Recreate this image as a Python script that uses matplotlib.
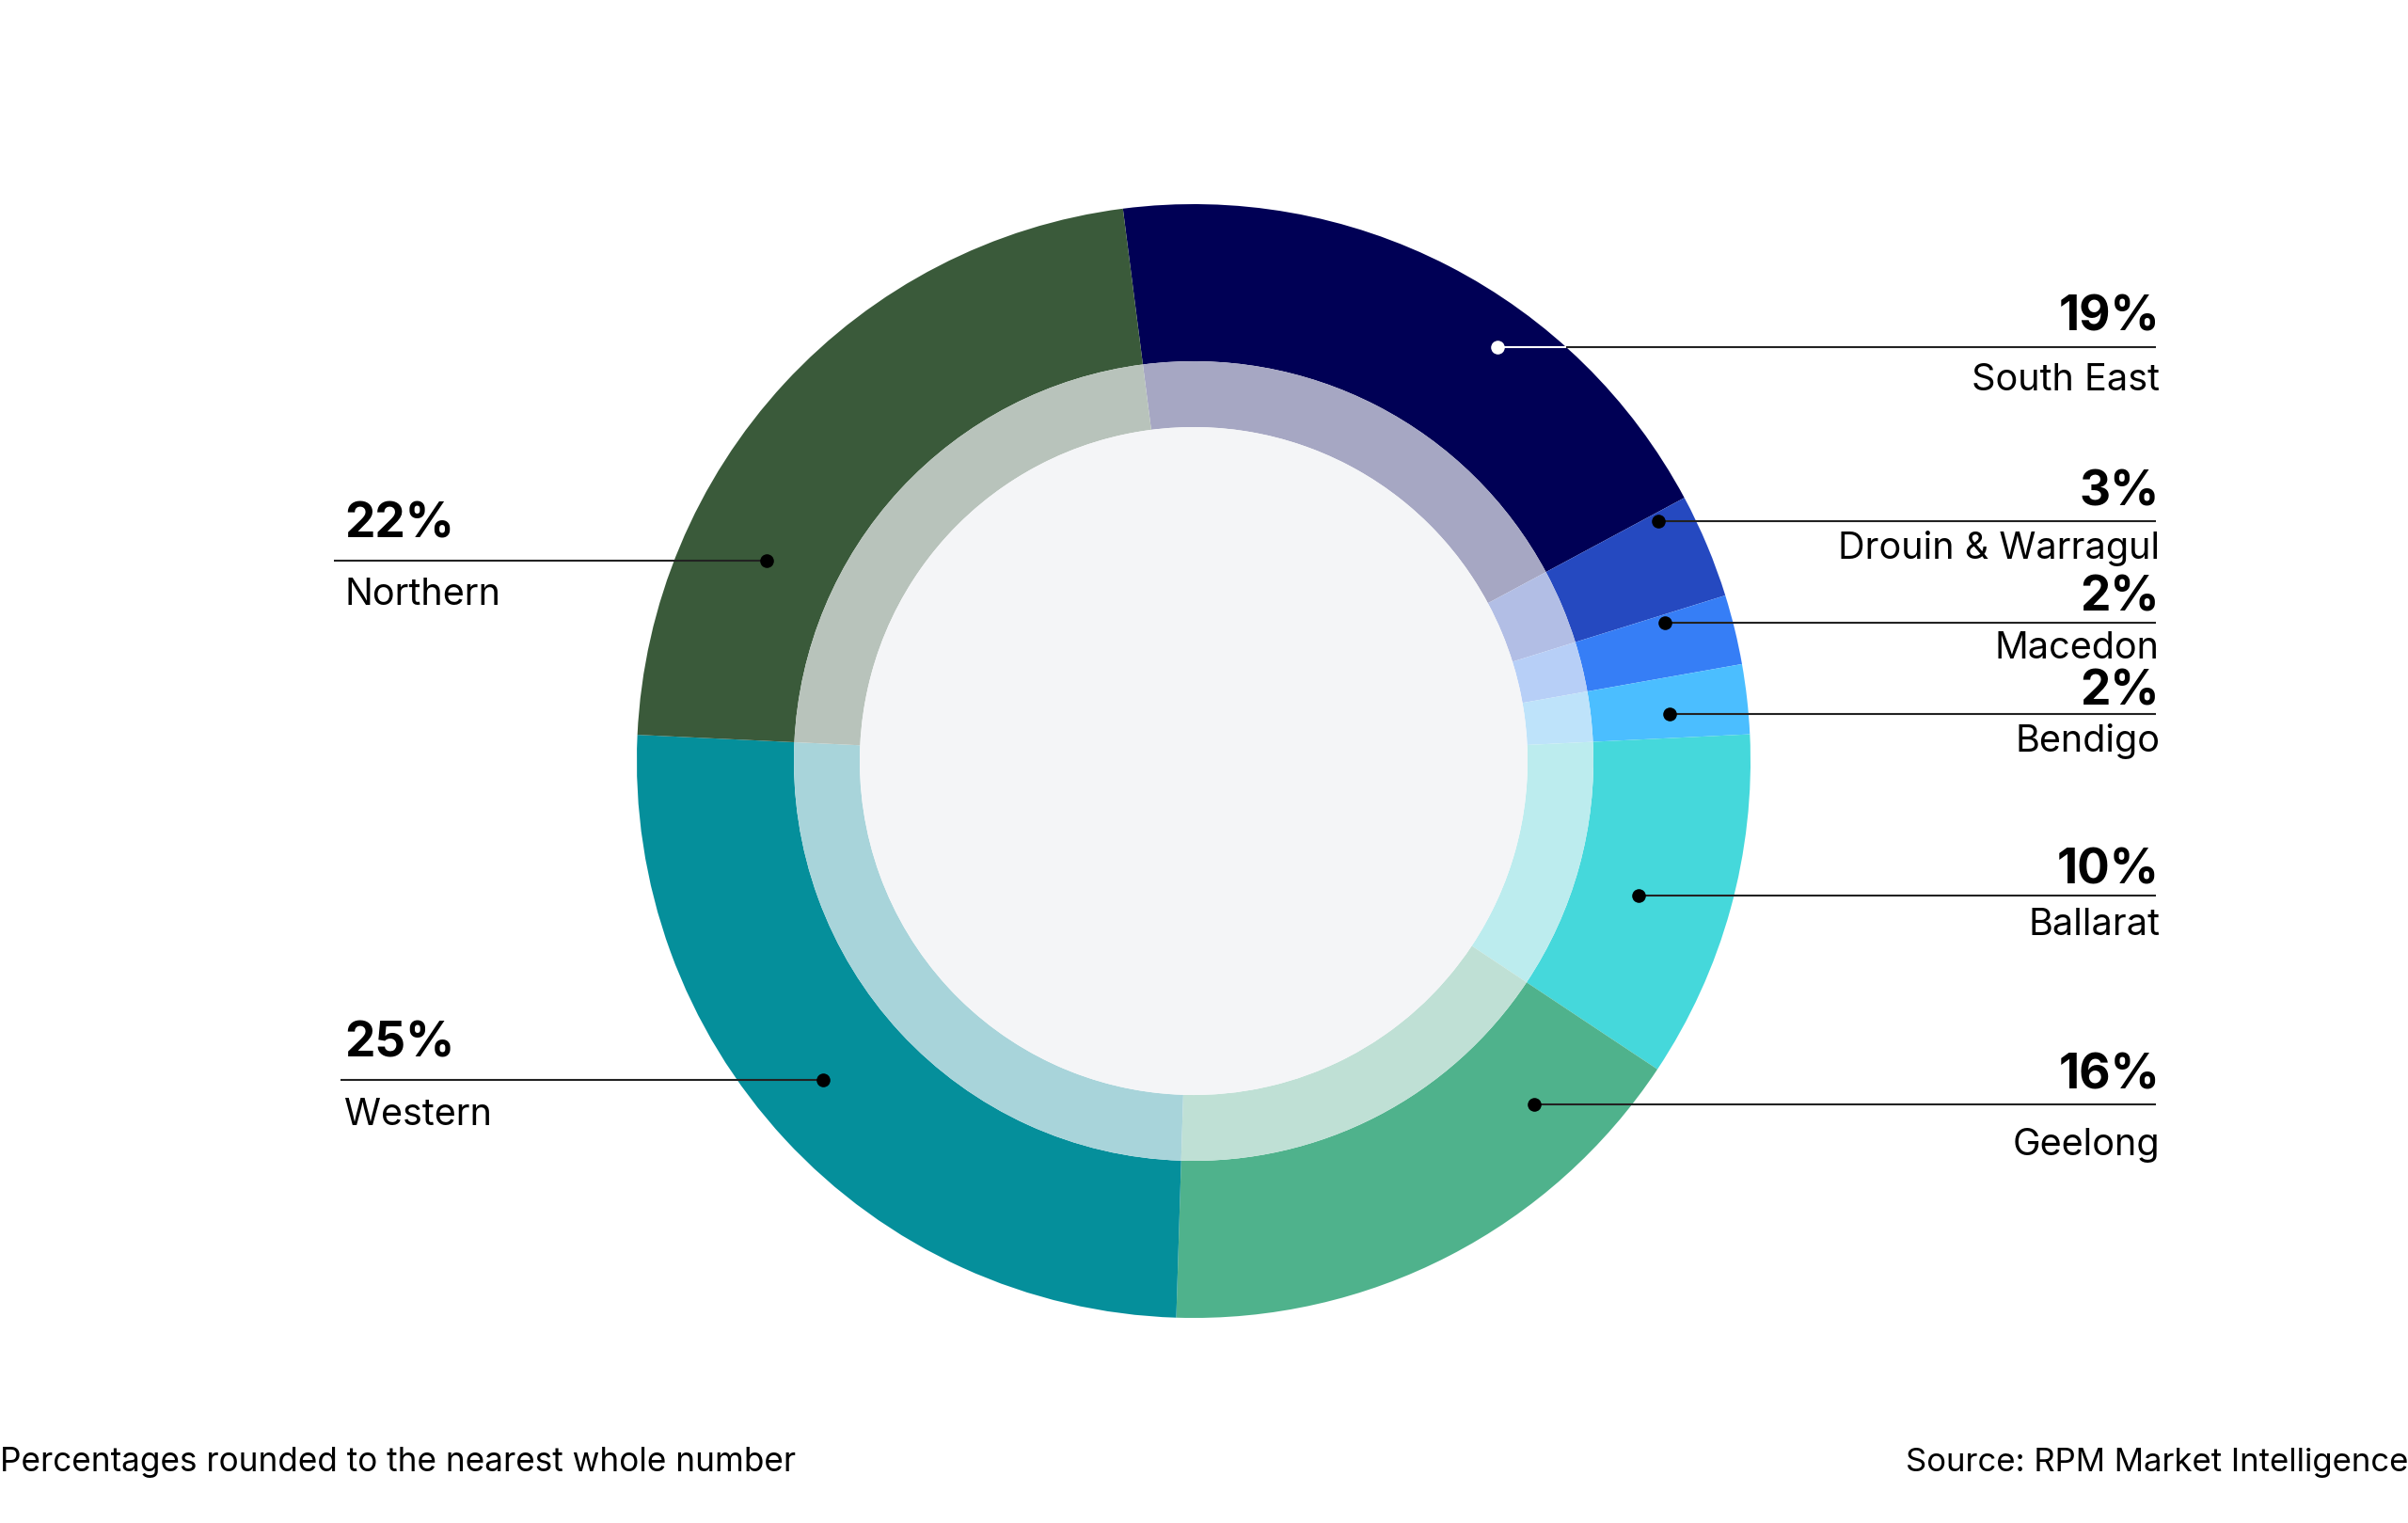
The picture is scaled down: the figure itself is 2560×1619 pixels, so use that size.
import matplotlib
matplotlib.use("Agg")
import matplotlib.pyplot as plt
import matplotlib.colors as mcolors
import numpy as np

plt.rcParams['font.family'] = ['Inter', 'DejaVu Sans']

# data
regions = ["South East", "Drouin & Warragul", "Macedon", "Bendigo",
           "Ballarat", "Geelong", "Western", "Northern"]
shares = [19, 3, 2, 2, 10, 16, 25, 22]
colors = ["#000055", "#2549C0", "#367EF6", "#4BBEFF",
          "#45D8DB", "#4FB28C", "#058F9B", "#3A5A3A"]

# label layout, in pixels from the top-left of the picture
# (dot x, line y, percent baseline, name baseline, side)
label_layout = {
    "South East":        (1592, 369, 351, 415, "right"),
    "Drouin & Warragul": (1763, 554, 538, 594, "right"),
    "Macedon":           (1770, 662, 650, 700, "right"),
    "Bendigo":           (1775, 759, 750, 799, "right"),
    "Ballarat":          (1742, 952, 939, 994, "right"),
    "Geelong":           (1631, 1174, 1157, 1228, "right"),
    "Western":           (875, 1148, 1124, 1196, "left"),
    "Northern":          (815, 596, 572, 643, "left"),
}

W, H = 2560, 1619
cx, cy = 1269, 809
r_out, r_mid, r_hole = 592, 425, 355
hole_color = "#F4F5F7"


def py(y):
    return H - y


def lighten(c, a=0.32):
    c = np.array(mcolors.to_rgb(c))
    bg = np.array(mcolors.to_rgb(hole_color))
    return tuple(c * a + bg * (1 - a))


fig = plt.figure(figsize=(W / 100, H / 100), dpi=100)
ax = fig.add_axes([0, 0, 1, 1])

ax.pie(shares, colors=colors, startangle=97.3, counterclock=False,
       radius=r_out, center=(cx, py(cy)),
       wedgeprops=dict(width=r_out - r_mid, linewidth=0))
ax.pie(shares, colors=[lighten(c) for c in colors], startangle=97.3,
       counterclock=False, radius=r_mid, center=(cx, py(cy)),
       wedgeprops=dict(width=r_mid - r_hole, linewidth=0))
ax.add_patch(plt.Circle((cx, py(cy)), r_hole, color=hole_color, lw=0))

line_col = "#222222"
for name, pct in zip(regions, shares):
    dx, ly, pb, nb, side = label_layout[name]
    if side == "right":
        end_x, tx, ha = 2292, 2296, "right"
    else:
        end_x, tx, ha = 355 if name == "Northern" else 362, 366, "left"
    dot_col = "white" if name == "South East" else "black"
    if name == "South East":
        # white inside the dark wedge, black outside it
        edge_x = cx + np.sqrt(r_out ** 2 - (ly - cy) ** 2)
        ax.plot([dx, edge_x], [py(ly), py(ly)], color="white", lw=1.5,
                solid_capstyle="butt")
        ax.plot([edge_x, end_x], [py(ly), py(ly)], color=line_col, lw=1.5,
                solid_capstyle="butt")
    else:
        ax.plot([dx, end_x], [py(ly), py(ly)], color=line_col, lw=1.5,
                solid_capstyle="butt")
    ax.plot(dx, py(ly), "o", color=dot_col, ms=10.5, mew=0)
    ax.text(tx, py(pb), f"{pct}%", ha=ha, va="baseline",
            fontsize=37, fontweight="bold", color="black")
    ax.text(tx, py(nb), name, ha=ha, va="baseline",
            fontsize=28.5, color="black")

ax.text(0, py(1564), "Percentages rounded to the nearest whole number",
        ha="left", va="baseline", fontsize=25.3, color="black")
ax.text(W, py(1564), "Source: RPM Market Intelligence",
        ha="right", va="baseline", fontsize=25, color="black")

ax.set_xlim(0, W)
ax.set_ylim(0, H)
ax.set_aspect("auto")
ax.axis("off")

fig.savefig("out.png", dpi=100, facecolor="white")
